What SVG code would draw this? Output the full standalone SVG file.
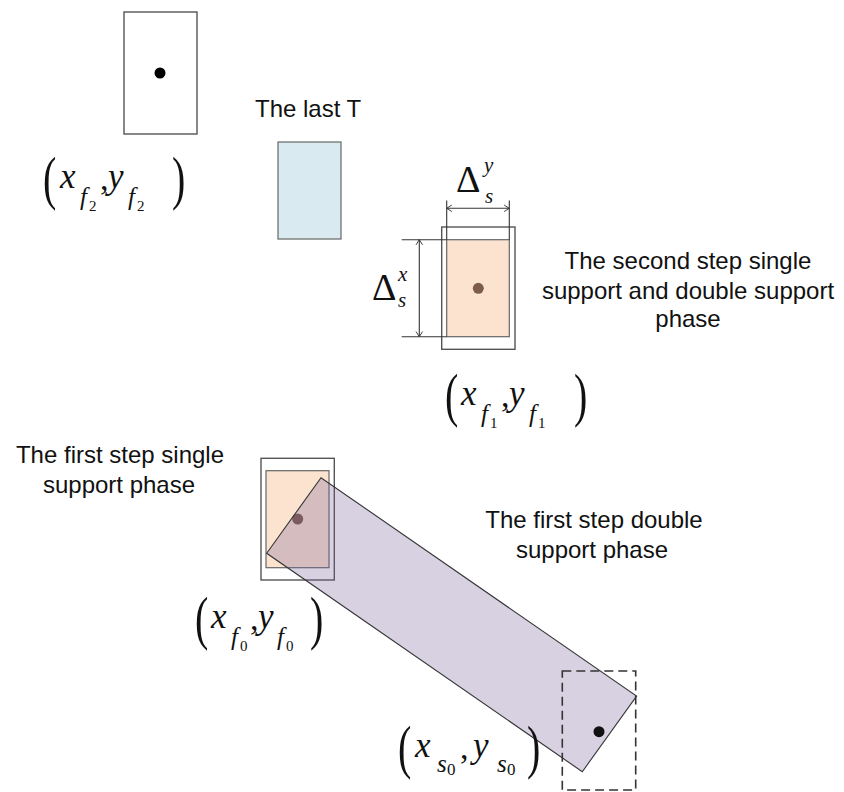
<svg xmlns="http://www.w3.org/2000/svg" width="844" height="792" viewBox="0 0 844 792">
<defs>
<style>
.lbl{font-family:"Liberation Sans",Arial,sans-serif;font-size:24px;fill:#111}
.mi{font-family:"Liberation Serif","Times New Roman",serif;font-style:italic;font-size:35px;fill:#111}
.sb{font-family:"Liberation Serif","Times New Roman",serif;font-style:italic;font-size:25px;fill:#111}
.ss{font-family:"Liberation Serif","Times New Roman",serif;font-size:15px;fill:#111}
.rm{font-family:"Liberation Serif","Times New Roman",serif;font-size:34px;fill:#111}
.par{font-family:"Liberation Serif","Times New Roman",serif;font-size:40px;fill:#111}
.dl{font-family:"Liberation Serif","Times New Roman",serif;font-size:38px;fill:#111}
.ds{font-family:"Liberation Serif","Times New Roman",serif;font-style:italic;font-size:21px;fill:#111}
.foot{fill:#fff;stroke:#555;stroke-width:1.4}
.sup{fill:#fce3cf;stroke:#666;stroke-width:1.2}
.dim{stroke:#333;stroke-width:1.1;fill:none}
</style>
<marker id="arr" markerUnits="userSpaceOnUse" markerWidth="12" markerHeight="12" viewBox="-7 -6 14 12" refX="0" refY="0" orient="auto-start-reverse" overflow="visible">
<path d="M-6,-3.8 L0,0 L-6,3.8" fill="none" stroke="#333" stroke-width="1.1"/>
</marker>
</defs>
<rect width="844" height="792" fill="#fff"/>

<g id="foot-f2">
<rect class="foot" x="124" y="12" width="73" height="122"/>
<circle cx="160" cy="73" r="5.5" fill="#000"/>
</g>
<g id="label-f2">
<text class="par" transform="translate(43,197.5) scale(1,1.5)">(</text>
<text class="mi" x="60" y="188">x</text>
<text class="sb" x="80" y="205">f</text>
<text class="ss" x="89" y="211">2</text>
<text class="rm" x="100" y="190">,</text>
<text class="mi" x="108" y="188">y</text>
<text class="sb" x="128" y="205">f</text>
<text class="ss" x="137" y="211">2</text>
<text class="par" transform="translate(172,197.5) scale(1,1.5)">)</text>
</g>

<g id="last-T">
<text class="lbl" x="255" y="117">The last T</text>
<rect x="278" y="142" width="63" height="97" fill="#d9eaf1" stroke="#666" stroke-width="1.2"/>
</g>

<g id="foot-f1">
<rect class="foot" x="441.7" y="227" width="73.3" height="122.3"/>
<rect class="sup" x="446.7" y="239.7" width="62.6" height="97"/>
<circle cx="478.3" cy="288.3" r="5.5" fill="#7d5c4b"/>
</g>
<g id="label-f1">
<text class="par" transform="translate(445,414.5) scale(1,1.5)">(</text>
<text class="mi" x="461" y="405">x</text>
<text class="sb" x="481" y="422">f</text>
<text class="ss" x="490" y="428">1</text>
<text class="rm" x="501" y="407">,</text>
<text class="mi" x="509" y="405">y</text>
<text class="sb" x="529" y="422">f</text>
<text class="ss" x="538" y="428">1</text>
<text class="par" transform="translate(574,414.5) scale(1,1.5)">)</text>
</g>
<g id="delta-y">
<text class="dl" x="456" y="192">Δ</text>
<text class="ds" x="484" y="172">y</text>
<text class="ds" x="485" y="203">s</text>
</g>
<g id="delta-x">
<text class="dl" x="372" y="300">Δ</text>
<text class="ds" x="398" y="281">x</text>
<text class="ds" x="398" y="307">s</text>
</g>
<g id="label-second">
<text class="lbl" text-anchor="middle" x="688" y="269">The second step single</text>
<text class="lbl" text-anchor="middle" x="688" y="298.5">support and double support</text>
<text class="lbl" text-anchor="middle" x="688" y="327">phase</text>
</g>

<g id="foot-f0">
<rect class="foot" x="261" y="458.3" width="73.3" height="121.7"/>
<rect class="sup" x="266" y="470.7" width="63" height="97"/>
<circle cx="297.7" cy="519" r="5.5" fill="#7d5c4b"/>
</g>
<g id="double-support">
<polygon points="321,477.7 266.7,553.3 582.3,771.7 636.6,696.1" fill="rgba(110,90,150,0.28)" stroke="#333" stroke-width="1.1"/>
</g>
<g id="foot-s0">
<rect x="562.3" y="671" width="73.4" height="119" fill="none" stroke="#333" stroke-width="1.6" stroke-dasharray="9,5"/>
<circle cx="599" cy="731.7" r="5.5" fill="#111"/>
</g>
<g id="label-f0">
<text class="par" transform="translate(195,637.5) scale(1,1.5)">(</text>
<text class="mi" x="211" y="628">x</text>
<text class="sb" x="231" y="645">f</text>
<text class="ss" x="240" y="651">0</text>
<text class="rm" x="250" y="630">,</text>
<text class="mi" x="258" y="628">y</text>
<text class="sb" x="277" y="645">f</text>
<text class="ss" x="286" y="651">0</text>
<text class="par" transform="translate(310,637.5) scale(1,1.5)">)</text>
</g>
<g id="label-s0">
<text class="par" transform="translate(398,766.5) scale(1,1.5)">(</text>
<text class="mi" x="415" y="757">x</text>
<text class="sb" x="437" y="772">s</text>
<text class="ss" x="447" y="775" style="font-size:17px">0</text>
<text class="rm" x="460" y="759">,</text>
<text class="mi" x="473" y="757">y</text>
<text class="sb" x="497" y="772">s</text>
<text class="ss" x="507" y="775" style="font-size:17px">0</text>
<text class="par" transform="translate(527,766.5) scale(1,1.5)">)</text>
</g>
<g id="label-first-single">
<text class="lbl" text-anchor="middle" x="120" y="462.5">The first step single</text>
<text class="lbl" text-anchor="middle" x="119" y="492.5">support phase</text>
</g>
<g id="label-first-double">
<text class="lbl" text-anchor="middle" x="594" y="528">The first step double</text>
<text class="lbl" text-anchor="middle" x="592" y="557.5">support phase</text>
</g>

<g id="connectors">
<line class="dim" x1="446.7" y1="200.5" x2="446.7" y2="239.7"/>
<line class="dim" x1="509.3" y1="200.5" x2="509.3" y2="239.7"/>
<line class="dim" x1="446.7" y1="208.3" x2="509.3" y2="208.3" marker-start="url(#arr)" marker-end="url(#arr)"/>
<line class="dim" x1="401.7" y1="239.7" x2="446.7" y2="239.7"/>
<line class="dim" x1="401.7" y1="336.7" x2="446.7" y2="336.7"/>
<line class="dim" x1="419.3" y1="239.7" x2="419.3" y2="336.7" marker-start="url(#arr)" marker-end="url(#arr)"/>
</g>
</svg>
